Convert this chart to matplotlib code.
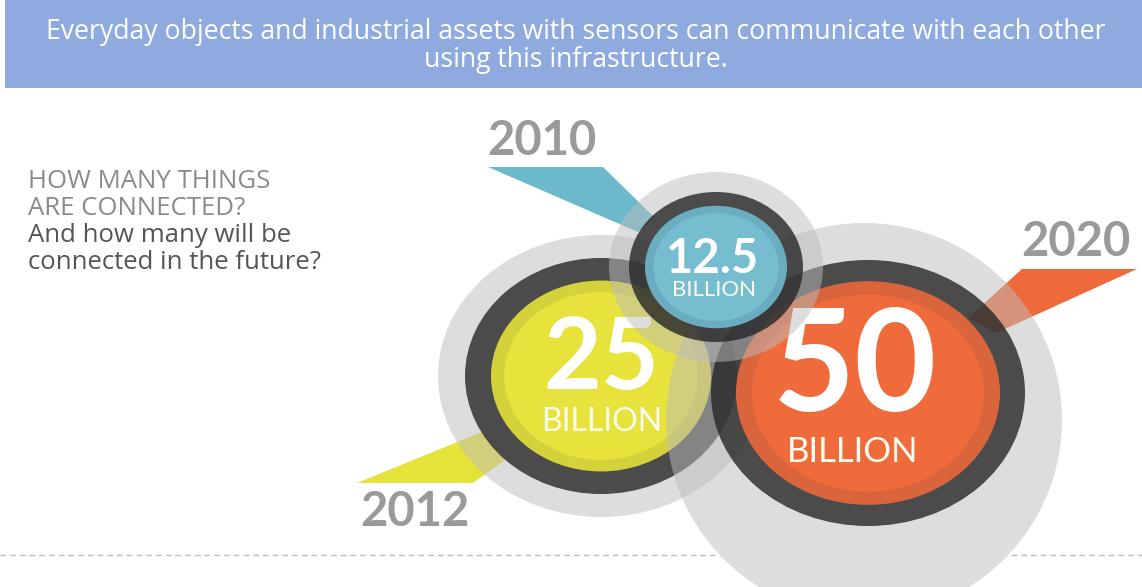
import matplotlib.pyplot as plt
from matplotlib.patches import Ellipse, Polygon, Rectangle

# data
years = ["2012", "2020", "2010"]
values = ["25", "50", "12.5"]
unit = "BILLION"
fill_outer = ["#e0dc3a", "#e6673b", "#6eb6ca"]
fill_inner = ["#e7e33c", "#ef6b3c", "#76bdd0"]
pointer_col = ["#e5e23a", "#ee6a3a", "#6cb9cc"]
header = "Everyday objects and industrial assets with sensors can communicate with each other\nusing this infrastructure."
question = ["HOW MANY THINGS", "ARE CONNECTED?"]
sub_question = ["And how many will be", "connected in the future?"]

# layout (pixel coordinates, y down)
centers = [(601, 376), (868, 393), (716, 267)]
ring_r = [(136, 118), (157, 133), (87, 75)]
ring_w = [26, 25, 16]
halo = [((601, 376), 163, 141), ((864, 420), 198, 197), ((716, 267), 107, 95)]
pointers = [
    [(357, 483), (473, 483), (505, 460), (482, 432)],
    [(1022, 269), (1137, 269), (996, 333), (968, 318)],
    [(488, 167), (603, 167), (655, 218), (638, 232)],
]
year_pos = [(415, 512), (1076, 242), (542, 141)]
num_pos = [(601, 360, 72), (855, 370, 102), (713, 259, 34)]
unit_pos = [(602, 422, 23), (853, 452, 25), (714, 290, 16)]

fig = plt.figure(figsize=(11.42, 5.87), dpi=100)
ax = fig.add_axes([0, 0, 1, 1])
ax.set_xlim(0, 1142)
ax.set_ylim(587, 0)
ax.axis("off")

# header band
ax.add_patch(Rectangle((5, 0), 1137, 88, facecolor="#8eaadf", edgecolor="none", zorder=1))
ax.text(576, 46, header, ha="center", va="center", fontsize=19.2, color="white",
        family="Open Sans", linespacing=1.0, zorder=2)

# left question text
for i, t in enumerate(question):
    ax.text(28, 188 + i * 27, t, ha="left", va="baseline", fontsize=18.5, color="#8a8a8a",
            family="Open Sans", fontweight="medium")
for i, t in enumerate(sub_question):
    ax.text(28, 242 + i * 27, t, ha="left", va="baseline", fontsize=18.5, color="#555555",
            family="Open Sans")

# dashed separator (hidden under the big halo)
ax.plot([0, 1142], [555, 555], color="#bdbdbd", lw=1, ls=(0, (4, 3)), zorder=1)
ax.add_patch(Ellipse(halo[1][0], 2 * halo[1][1], 2 * halo[1][2], facecolor="white",
                     edgecolor="none", zorder=2))

z = 3
for i in range(3):
    ax.add_patch(Polygon(pointers[i], closed=True, facecolor=pointer_col[i],
                         edgecolor="none", zorder=z))
    (hx, hy), hrx, hry = halo[i]
    ax.add_patch(Ellipse((hx, hy), 2 * hrx, 2 * hry, facecolor="#bdbdbd", alpha=0.5,
                         edgecolor="none", zorder=z + 1))
    cx, cy = centers[i]
    rx, ry = ring_r[i]
    ax.add_patch(Ellipse((cx, cy), 2 * rx, 2 * ry, facecolor="#262626", alpha=0.8,
                         edgecolor="none", zorder=z + 2))
    w = ring_w[i]
    irx, iry = rx - w, ry - w * ry / rx
    ax.add_patch(Ellipse((cx, cy), 2 * irx, 2 * iry, facecolor=fill_outer[i], alpha=0.93,
                         edgecolor="none", zorder=z + 3))
    ax.add_patch(Ellipse((cx, cy), 2 * irx * 0.88, 2 * iry * 0.88, facecolor=fill_inner[i],
                         edgecolor="none", zorder=z + 3))
    nx, ny, ns = num_pos[i]
    ax.text(nx, ny, values[i], ha="center", va="center", fontsize=ns, color="white",
            family="Lato", fontweight="bold", zorder=z + 4)
    ux, uy, us = unit_pos[i]
    ax.text(ux, uy, unit, ha="center", va="center", fontsize=us, color="#fbfbf0",
            family="Lato", zorder=z + 4)
    yx, yy = year_pos[i]
    ax.text(yx, yy, years[i], ha="center", va="center", fontsize=34, color="#9a9a9a",
            family="Lato", fontweight="bold", zorder=z + 4)
    z += 5

fig.savefig("out.png", dpi=100)
